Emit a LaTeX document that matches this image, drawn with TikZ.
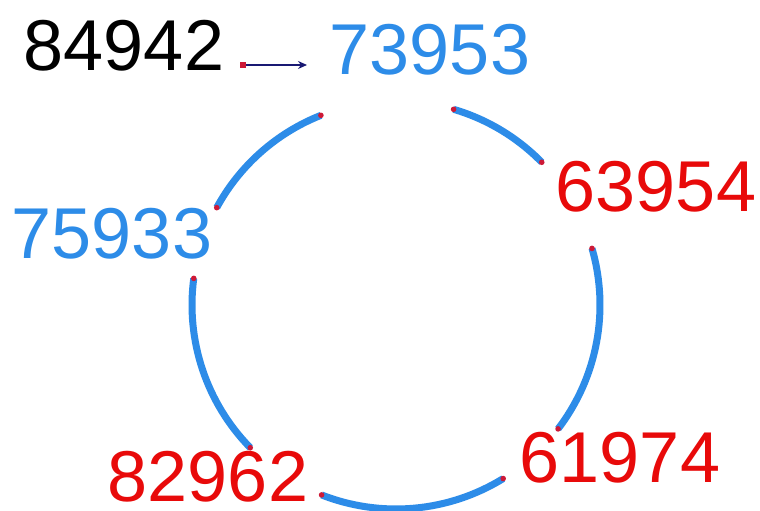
\documentclass[tikz,border=0pt]{standalone}
\usepackage{fontspec}
\setmainfont{Liberation Sans}
\usetikzlibrary{arrows.meta,calc}
\definecolor{ringblue}{RGB}{45,140,232}
\definecolor{numred}{RGB}{232,10,10}
\definecolor{dotred}{RGB}{205,25,55}
\definecolor{navy}{RGB}{25,25,115}
\tikzset{
  num/.style={inner sep=0pt, font=\fontsize{72}{80}\selectfont},
  ring/.style={draw=ringblue, line width=7pt},
  enddot/.style={fill=dotred},
  link/.style={draw=navy, line width=1.5pt, -{Stealth[length=9pt,width=8pt,inset=3pt]}}
}
\begin{document}
\begin{tikzpicture}[x=1pt,y=1pt]
\useasboundingbox (0,0) rectangle (760,511);
\fill[white] (0,0) rectangle (760,511);
% numbers
\node[num, text=black]     (n0) at (124,465) {84942};
\node[num, text=ringblue]  (n1) at (430,461) {73953};
\node[num, text=numred]    (n2) at (656,324) {63954};
\node[num, text=ringblue]  (n3) at (112,277) {75933};
\node[num, text=numred]    (n4) at (208,34)  {82962};
\node[num, text=numred]    (n5) at (620,53)  {61974};
% circle centre
\coordinate (O) at (396,206);
% arcs
\path (O) ++(151.5:204) coordinate (a1s);
\draw[ring] (a1s) arc[start angle=151.5, end angle=111.6, radius=204] coordinate (a1e);
\path (O) ++(73.6:204) coordinate (a2s);
\draw[ring] (a2s) arc[start angle=73.6, end angle=44.4, radius=204] coordinate (a2e);
\path (O) ++(16.1:204) coordinate (a3s);
\draw[ring] (a3s) arc[start angle=16.1, end angle=-37.4, radius=204] coordinate (a3e);
\path (O) ++(-58.3:204) coordinate (a4s);
\draw[ring] (a4s) arc[start angle=-58.3, end angle=-111.4, radius=204] coordinate (a4e);
\path (O) ++(-135.6:204) coordinate (a5s);
\draw[ring] (a5s) arc[start angle=-135.6, end angle=-187.5, radius=204] coordinate (a5e);
% end dots
\foreach \p in {a1s,a1e,a2s,a2e,a3s,a3e,a4s,a4e,a5s,a5e}
  \fill[enddot] (\p) circle (2.8);
% arrow
\coordinate (arrS) at (243,446);
\coordinate (arrE) at (307,446);
\draw[link] (arrS) -- (arrE);
\fill[dotred] ($(arrS)+(-3,-3)$) rectangle ($(arrS)+(3,3)$);
\end{tikzpicture}
\end{document}
